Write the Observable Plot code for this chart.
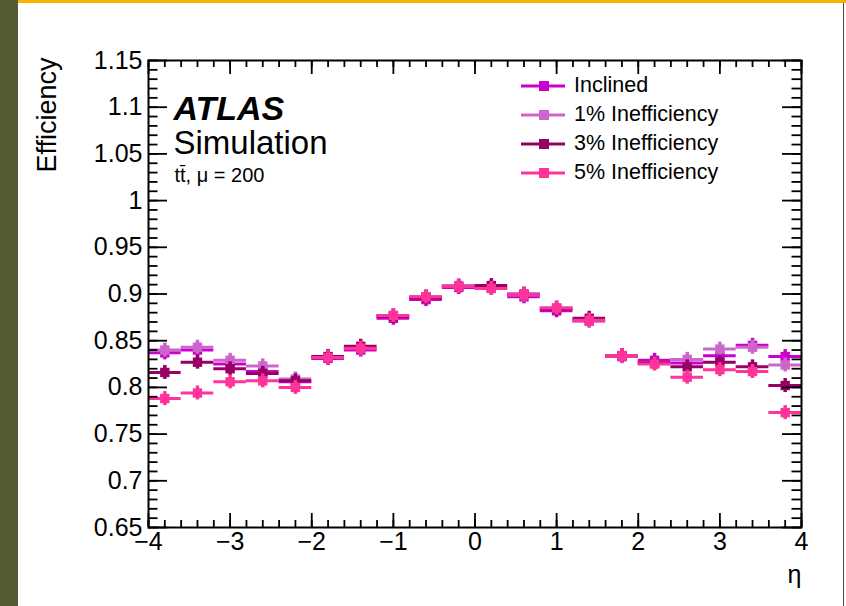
<!DOCTYPE html>
<html><head><meta charset="utf-8">
<script src="https://cdn.jsdelivr.net/npm/d3@7"></script>
<script src="https://cdn.jsdelivr.net/npm/@observablehq/plot@0.6"></script>
<style>
html,body{margin:0;padding:0;background:#fff;}
#wrap{position:relative;width:846px;height:606px;overflow:hidden;background:#fff;font-family:"Liberation Sans",Arial,sans-serif;}
#olive{position:absolute;left:0;top:0;width:18px;height:606px;background:#555b33;}
#gold{position:absolute;left:18px;top:0;width:828px;height:3px;background:#f4b400;}
#redge{position:absolute;left:843px;top:3px;width:1px;height:603px;background:#4a4f2c;}
#chart{position:absolute;left:0;top:0;}
#legend{position:absolute;left:518px;top:71px;}
.row{height:29px;display:flex;align-items:center;font-size:21.5px;color:#000;}
.row span{margin-left:6px;}
</style></head><body>
<div id="wrap"><div id="chart"></div><div id="legend"></div><div id="olive"></div><div id="gold"></div><div id="redge"></div></div>
<script>
const etaCenters = [-3.8,-3.4,-3.0,-2.6,-2.2,-1.8,-1.4,-1.0,-0.6,-0.2,0.2,0.6,1.0,1.4,1.8,2.2,2.6,3.0,3.4,3.8];
const binHalfWidth = 0.2;
const effInclined = [0.837,0.840,0.825,0.817,0.806,0.831,0.840,0.874,0.894,0.907,0.907,0.897,0.882,0.871,0.833,0.829,0.826,0.834,0.845,0.833];
const eff1pct     = [0.840,0.843,0.829,0.823,0.809,0.832,0.842,0.877,0.897,0.909,0.906,0.899,0.885,0.872,0.833,0.826,0.830,0.841,0.843,0.824];
const eff3pct     = [0.816,0.827,0.820,0.815,0.807,0.833,0.844,0.876,0.896,0.908,0.909,0.900,0.884,0.874,0.834,0.826,0.822,0.827,0.822,0.802];
const eff5pct     = [0.788,0.794,0.806,0.807,0.800,0.832,0.842,0.877,0.897,0.908,0.906,0.8995,0.885,0.872,0.834,0.825,0.811,0.819,0.817,0.773];
const effError = 0.0075;
const seriesNames = ["Inclined","1% Inefficiency","3% Inefficiency","5% Inefficiency"];
const seriesColors = ["#cc00cc","#cc66cc","#990066","#ff3399"];
const seriesValues = [effInclined, eff1pct, eff3pct, eff5pct];
const xTickValues = [-4,-3,-2,-1,0,1,2,3,4];
const yTickValues = [0.65,0.7,0.75,0.8,0.85,0.9,0.95,1,1.05,1.1,1.15];

const W = 846, H = 606, mL = 148, mR = 45, mT = 60, mB = 79;
const fW = W - mL - mR, fH = H - mT - mB;
const xMinor = d3.range(-4, 4.0001, 0.2);
const yMinor = d3.range(0.65, 1.15001, 0.01);

const marks = [];
seriesValues.forEach((vals, i) => {
  const color = seriesColors[i];
  const rows = etaCenters.map((e, j) => ({eta: e, eff: vals[j]}));
  marks.push(
    Plot.ruleY(rows, {y: "eff", x1: d => d.eta - binHalfWidth, x2: d => d.eta + binHalfWidth, stroke: color, strokeWidth: 3}),
    Plot.ruleX(rows, {x: "eta", y1: d => d.eff - effError, y2: d => d.eff + effError, stroke: color, strokeWidth: 3.5}),
    Plot.dot(rows, {x: "eta", y: "eff", symbol: "square", r: 5.3, fill: color, stroke: "none"})
  );
});

const chart = Plot.plot({
  width: W, height: H,
  marginLeft: mL, marginRight: mR, marginTop: mT, marginBottom: mB,
  style: {fontFamily: '"Liberation Sans", Arial, sans-serif', background: "transparent", color: "black"},
  x: {domain: [-4, 4], label: null},
  y: {domain: [0.65, 1.15], label: null},
  marks: [
    ...marks,
    Plot.tickX(xMinor, {x: d => d, insetTop: fH - 7, stroke: "black", strokeWidth: 1.8}),
    Plot.tickX(xMinor, {x: d => d, insetBottom: fH - 7, stroke: "black", strokeWidth: 1.8}),
    Plot.tickX(xTickValues, {x: d => d, insetTop: fH - 14, stroke: "black", strokeWidth: 1.8}),
    Plot.tickX(xTickValues, {x: d => d, insetBottom: fH - 14, stroke: "black", strokeWidth: 1.8}),
    Plot.tickY(yMinor, {y: d => d, insetRight: fW - 9.5, stroke: "black", strokeWidth: 1.8}),
    Plot.tickY(yMinor, {y: d => d, insetLeft: fW - 9.5, stroke: "black", strokeWidth: 1.8}),
    Plot.tickY(yTickValues, {y: d => d, insetRight: fW - 19, stroke: "black", strokeWidth: 1.8}),
    Plot.tickY(yTickValues, {y: d => d, insetLeft: fW - 19, stroke: "black", strokeWidth: 1.8}),
    Plot.frame({stroke: "black", strokeWidth: 2}),
    Plot.axisX(xTickValues, {tickSize: 0, tickPadding: 5, fontSize: 25, label: null,
      tickFormat: d => d < 0 ? "\u2212" + (-d) : String(d)}),
    Plot.axisY(yTickValues, {tickSize: 0, tickPadding: 6, fontSize: 25, label: null,
      tickFormat: d => String(+d.toFixed(2))}),
    Plot.text(["Efficiency"], {frameAnchor: "top-left", text: d => d, rotate: -90, textAnchor: "end", dx: -112, dy: -3, fontSize: 27}),
    Plot.text(["\u03b7"], {frameAnchor: "bottom-right", text: d => d, textAnchor: "end", dy: 55, fontSize: 25}),
    Plot.text(["ATLAS"], {frameAnchor: "top-left", text: d => d, textAnchor: "start", dx: 25, dy: 35, fontSize: 34, fontWeight: "bold", fontStyle: "italic"}),
    Plot.text(["Simulation"], {frameAnchor: "top-left", text: d => d, textAnchor: "start", dx: 25, dy: 70, fontSize: 33}),
    Plot.text(["tt\u0304, \u03bc = 200"], {frameAnchor: "top-left", text: d => d, textAnchor: "start", dx: 26, dy: 107, fontSize: 20})
  ]
});
document.getElementById("chart").appendChild(chart);

const legend = document.getElementById("legend");
seriesNames.forEach((name, i) => {
  const c = seriesColors[i];
  const row = document.createElement("div");
  row.className = "row";
  row.innerHTML = `<svg width="50" height="14"><line x1="3" x2="47" y1="7" y2="7" stroke="${c}" stroke-width="3"/><rect x="21" y="2" width="10" height="10" fill="${c}"/></svg><span>${name}</span>`;
  legend.appendChild(row);
});
</script>
</body></html>
